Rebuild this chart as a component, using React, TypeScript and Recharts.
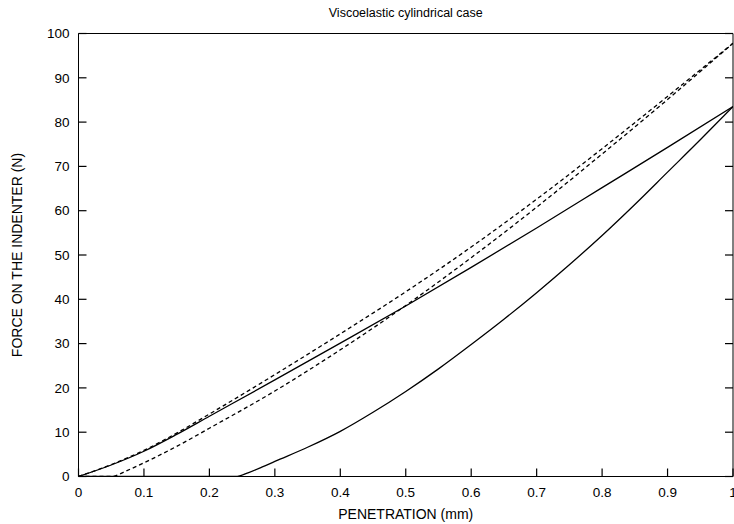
import React from 'react';
import { LineChart, Line, XAxis, YAxis, Label } from 'recharts';

// Solid loading curve
const penetrationSolidLoad = [0, 0.05, 0.1, 0.15, 0.2, 0.3, 0.4, 0.5, 0.6, 0.7, 0.8, 0.9, 1.0];
const forceSolidLoad = [0, 2.6, 5.7, 9.5, 13.6, 21.8, 30.1, 38.5, 47.2, 56.1, 65.2, 74.3, 83.5];

// Upper dashed curve
const penetrationDashedUpper = [0, 0.05, 0.1, 0.15, 0.2, 0.3, 0.4, 0.5, 0.6, 0.7, 0.8, 0.9, 1.0];
const forceDashedUpper = [0, 2.7, 5.9, 9.8, 14.1, 23.0, 32.2, 41.7, 51.8, 62.6, 74.0, 85.8, 97.8];

// Lower dashed curve
const penetrationDashedLower = [0, 0.05, 0.075, 0.1, 0.15, 0.2, 0.3, 0.4, 0.5, 0.6, 0.7, 0.8, 0.9, 1.0];
const forceDashedLower = [0, 0, 1.4, 3.1, 6.8, 10.9, 19.3, 28.6, 38.6, 49.4, 60.8, 72.8, 85.1, 97.8];

// Solid unloading curve
const penetrationSolidUnload = [0, 0.24, 0.26, 0.28, 0.3, 0.35, 0.4, 0.45, 0.5, 0.55, 0.6, 0.65, 0.7, 0.75, 0.8, 0.85, 0.9, 0.95, 1.0];
const forceSolidUnload = [0, 0, 0.9, 2.1, 3.4, 6.6, 10.2, 14.5, 19.2, 24.3, 29.8, 35.5, 41.5, 47.8, 54.4, 61.4, 68.7, 76.0, 83.5];

const xTicks = [0, 0.1, 0.2, 0.3, 0.4, 0.5, 0.6, 0.7, 0.8, 0.9, 1];
const yTicks = [0, 10, 20, 30, 40, 50, 60, 70, 80, 90, 100];

const TITLE = 'Viscoelastic cylindrical case';
const X_LABEL = 'PENETRATION (mm)';
const Y_LABEL = 'FORCE ON THE INDENTER (N)';

const FONT = '"Liberation Sans", Arial, Helvetica, sans-serif';
const TICK_LEN = 8;
const TICK_FONT = 13.5;
const TICK_STROKE = 1.2;

const zip = (xs: number[], ys: number[]) => xs.map((x, i) => ({ x, y: ys[i] }));

const BOTTOM_MARGIN = TICK_LEN + 10.5;
const LEFT_MARGIN = TICK_LEN + 9;

const BottomTick = (props: any) => {
  const { x, y, payload } = props;
  const inner = y - BOTTOM_MARGIN;
  return (
    <g>
      <line x1={x} x2={x} y1={inner} y2={inner + TICK_LEN} stroke="#000" strokeWidth={TICK_STROKE} />
      <text x={x} y={y} dy="0.71em" textAnchor="middle" fontSize={TICK_FONT} fontFamily={FONT} fill="#000">
        {String(payload.value)}
      </text>
    </g>
  );
};

const TopTick = (props: any) => {
  const { x, y } = props;
  return <line x1={x} x2={x} y1={y} y2={y - TICK_LEN} stroke="#000" strokeWidth={TICK_STROKE} />;
};

const LeftTick = (props: any) => {
  const { x, y, payload } = props;
  const inner = x + LEFT_MARGIN;
  return (
    <g>
      <line x1={inner} x2={inner - TICK_LEN} y1={y} y2={y} stroke="#000" strokeWidth={TICK_STROKE} />
      <text x={x} y={y} dy="0.355em" textAnchor="end" fontSize={TICK_FONT} fontFamily={FONT} fill="#000">
        {String(payload.value)}
      </text>
    </g>
  );
};

const RightTick = (props: any) => {
  const { x, y } = props;
  return <line x1={x} x2={x + TICK_LEN} y1={y} y2={y} stroke="#000" strokeWidth={TICK_STROKE} />;
};

const renderYLabel = (props: any) => {
  const vb = props.viewBox || { x: 0, y: 0, width: 0, height: 0 };
  const cx = vb.x + 17;
  const cy = vb.y + vb.height / 2;
  return (
    <text
      x={cx}
      y={cy}
      transform={`rotate(-90, ${cx}, ${cy})`}
      textAnchor="middle"
      dy="0.36em"
      fontSize={14}
      fontFamily={FONT}
      fill="#000"
    >
      {Y_LABEL}
    </text>
  );
};

export default function App() {
  return (
    <div style={{ position: 'absolute', left: 0, top: 0 }}>
      <LineChart width={734} height={524} margin={{ top: 0, right: 0, bottom: 0, left: 0 }}>
        <XAxis
          xAxisId={0}
          dataKey="x"
          type="number"
          domain={[0, 1]}
          ticks={xTicks}
          interval={0}
          allowDataOverflow
          height={47.5}
          tickSize={-TICK_LEN}
          tickMargin={BOTTOM_MARGIN}
          tick={<BottomTick />}
          tickLine={false}
          axisLine={{ stroke: '#000' }}
        >
          <Label value={X_LABEL} position="insideBottom" offset={5} fontSize={14} fill="#000" fontFamily={FONT} />
        </XAxis>
        <XAxis
          xAxisId="top"
          orientation="top"
          type="number"
          domain={[0, 1]}
          ticks={xTicks}
          interval={0}
          allowDataOverflow
          height={33.5}
          tickSize={-TICK_LEN}
          tickMargin={0}
          tick={<TopTick />}
          tickLine={false}
          axisLine={{ stroke: '#000' }}
        >
          <Label value={TITLE} position="insideTop" offset={8} fontSize={12.5} fill="#000" fontFamily={FONT} />
        </XAxis>
        <YAxis
          yAxisId={0}
          type="number"
          domain={[0, 100]}
          ticks={yTicks}
          interval={0}
          allowDataOverflow
          width={78.5}
          tickSize={-TICK_LEN}
          tickMargin={LEFT_MARGIN}
          tick={<LeftTick />}
          tickLine={false}
          axisLine={{ stroke: '#000' }}
        >
          <Label content={renderYLabel} />
        </YAxis>
        <YAxis
          yAxisId="right"
          orientation="right"
          type="number"
          domain={[0, 100]}
          ticks={yTicks}
          interval={0}
          allowDataOverflow
          width={1}
          tickSize={-TICK_LEN}
          tickMargin={0}
          tick={<RightTick />}
          tickLine={false}
          axisLine={{ stroke: '#000' }}
        />
        <Line
          data={zip(penetrationSolidLoad, forceSolidLoad)}
          dataKey="y"
          type="monotone"
          stroke="#000"
          strokeWidth={1.3}
          dot={false}
          activeDot={false}
          isAnimationActive={false}
        />
        <Line
          data={zip(penetrationDashedUpper, forceDashedUpper)}
          dataKey="y"
          type="monotone"
          stroke="#000"
          strokeWidth={1.3}
          strokeDasharray="4 3"
          dot={false}
          activeDot={false}
          isAnimationActive={false}
        />
        <Line
          data={zip(penetrationDashedLower, forceDashedLower)}
          dataKey="y"
          type="monotone"
          stroke="#000"
          strokeWidth={1.3}
          strokeDasharray="4 3"
          dot={false}
          activeDot={false}
          isAnimationActive={false}
        />
        <Line
          data={zip(penetrationSolidUnload, forceSolidUnload)}
          dataKey="y"
          type="monotone"
          stroke="#000"
          strokeWidth={1.3}
          dot={false}
          activeDot={false}
          isAnimationActive={false}
        />
      </LineChart>
    </div>
  );
}
